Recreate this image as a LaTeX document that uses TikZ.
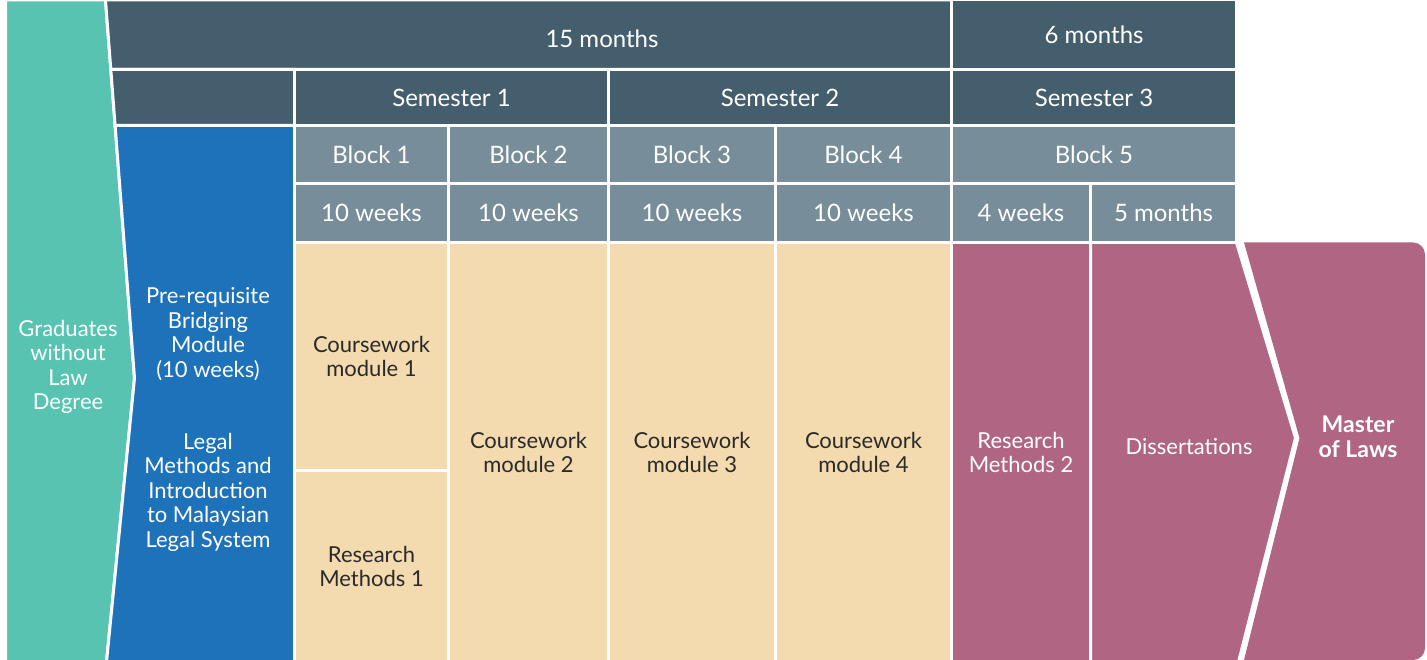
\documentclass[tikz,border=0pt]{standalone}
\usepackage{fontspec}
\setmainfont{Lato}

\definecolor{gradteal}{HTML}{58C3B1}
\definecolor{bridgeblue}{HTML}{1E72BA}
\definecolor{headdark}{HTML}{445E6D}
\definecolor{headgrey}{HTML}{778D99}
\definecolor{modbeige}{HTML}{F3DAAF}
\definecolor{resmauve}{HTML}{B06683}
\definecolor{modtext}{HTML}{2A2A2A}

\begin{document}
\begin{tikzpicture}[x=1pt, y=-1pt,
    cell/.style={draw=white, line width=3pt, inner sep=0pt, outer sep=0pt, align=center, text=white, font=\fontsize{22}{24.5}\selectfont},
    darkcell/.style={cell, fill=headdark, font=\fontsize{24}{26}\selectfont},
    greycell/.style={cell, fill=headgrey, font=\fontsize{24}{26}\selectfont},
    modcell/.style={cell, fill=modbeige, text=modtext},
    rescell/.style={cell, fill=resmauve},
    slab/.style={draw=white, line width=3pt, line join=miter},
    txt/.style={align=center, text=white, font=\fontsize{22}{24.5}\selectfont}
]
\useasboundingbox (0,0) rectangle (1427,660);

% Slanted shapes
\path[slab, fill=gradteal] (5.5,0) -- (105.5,0) -- (134.5,378) -- (106.5,662) -- (5.5,662) -- cycle;
\path[slab, fill=bridgeblue] (115.1,125.5) -- (294.5,125.5) -- (294.5,662) -- (106.5,662) -- (134.5,378) -- cycle;
\path[slab, fill=headdark] (105.5,0) -- (951.5,0) -- (951.5,69.5) -- (110.8,69.5) -- cycle;
\path[slab, fill=headdark] (110.8,69.5) -- (294.5,69.5) -- (294.5,125.5) -- (115.1,125.5) -- cycle;
\path[slab, fill=resmauve] (1090.5,242.5) -- (1236.5,242.5) -- (1295.5,438) -- (1238.5,662) -- (1090.5,662) -- cycle;
\path[fill=resmauve] (1244,242.5) -- (1299.5,438) -- (1244,660) [rounded corners=12pt] -- (1425,660) -- (1425,242.5) [sharp corners] -- cycle;

% Labels on slanted shapes
\node[txt] (graduates) at (68,367) {Graduates\\without\\Law\\Degree};
\node[txt] (bridging) at (208,334) {Pre-requisite\\Bridging\\Module\\(10 weeks)};
\node[txt] (legal) at (208,492) {Legal\\Methods and\\Introduction\\to Malaysian\\Legal System};
\node[txt, font=\fontsize{24}{26}\selectfont] (fifteen) at (602,39) {15 months};
\node[txt] (dissert) at (1189,447) {Dissertations};
\node[txt, font=\fontsize{23}{25}\selectfont\bfseries] (master) at (1358,437) {Master\\of Laws};

% Header cells
\node[darkcell, minimum width=285pt, minimum height=69.5pt] (six) at (1094,34.75) {6 months};
\node[darkcell, minimum width=314pt, minimum height=56pt] (sem1) at (451.5,97.5) {Semester 1};
\node[darkcell, minimum width=343pt, minimum height=56pt] (sem2) at (780,97.5) {Semester 2};
\node[darkcell, minimum width=285pt, minimum height=56pt] (sem3) at (1094,97.5) {Semester 3};

\node[greycell, minimum width=154pt, minimum height=58pt] (blk1) at (371.5,154.5) {Block 1};
\node[greycell, minimum width=160pt, minimum height=58pt] (blk2) at (528.5,154.5) {Block 2};
\node[greycell, minimum width=167pt, minimum height=58pt] (blk3) at (692,154.5) {Block 3};
\node[greycell, minimum width=176pt, minimum height=58pt] (blk4) at (863.5,154.5) {Block 4};
\node[greycell, minimum width=285pt, minimum height=58pt] (blk5) at (1094,154.5) {Block 5};

\node[greycell, minimum width=154pt, minimum height=59pt] (wk1) at (371.5,213) {10 weeks};
\node[greycell, minimum width=160pt, minimum height=59pt] (wk2) at (528.5,213) {10 weeks};
\node[greycell, minimum width=167pt, minimum height=59pt] (wk3) at (692,213) {10 weeks};
\node[greycell, minimum width=176pt, minimum height=59pt] (wk4) at (863.5,213) {10 weeks};
\node[greycell, minimum width=139pt, minimum height=59pt] (wk5a) at (1021,213) {4 weeks};
\node[greycell, minimum width=146pt, minimum height=59pt] (wk5b) at (1163.5,213) {5 months};

% Module cells
\node[modcell, minimum width=154pt, minimum height=228pt] (cw1) at (371.5,356.5) {Coursework\\module 1};
\node[modcell, minimum width=154pt, minimum height=191.5pt] (rm1) at (371.5,566.25) {Research\\Methods 1};
\node[modcell, minimum width=160pt, minimum height=419.5pt] (cw2) at (528.5,452.25) {Coursework\\module 2};
\node[modcell, minimum width=167pt, minimum height=419.5pt] (cw3) at (692,452.25) {Coursework\\module 3};
\node[modcell, minimum width=176pt, minimum height=419.5pt] (cw4) at (863.5,452.25) {Coursework\\module 4};
\node[rescell, minimum width=139pt, minimum height=419.5pt] (rm2) at (1021,452.25) {Research\\Methods 2};

\end{tikzpicture}
\end{document}
